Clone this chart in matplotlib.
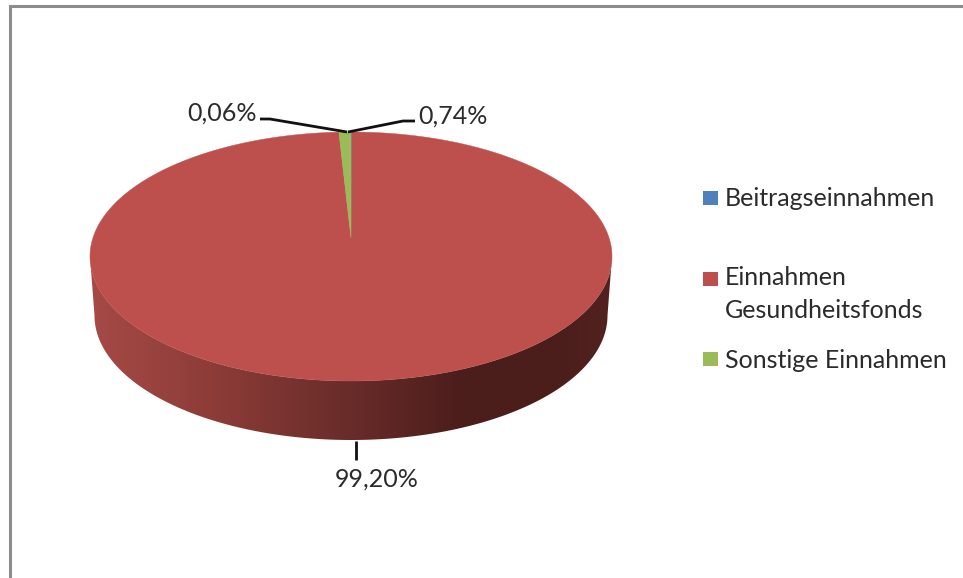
import numpy as np
import matplotlib
matplotlib.use("Agg")
import matplotlib.pyplot as plt
from matplotlib.colors import LinearSegmentedColormap
from matplotlib.patches import Polygon, Rectangle

# Einnahmen in Prozent
kategorien = ["Beitragseinnahmen", "Einnahmen\nGesundheitsfonds", "Sonstige Einnahmen"]
anteile = [0.06, 99.20, 0.74]
beschriftung = ["0,06%", "99,20%", "0,74%"]
farben = ["#4F81BD", "#BD4F4C", "#9BBB59"]

plt.rcParams['font.family'] = ['Lato', 'DejaVu Sans']

fig = plt.figure(figsize=(9.63, 5.78), dpi=100)
ax = fig.add_axes([0, 0, 1, 1])
ax.set_xlim(0, 963)
ax.set_ylim(578, 0)
ax.axis("off")

# Rahmen
ax.plot([10, 10, 963], [578, 6, 6], color="#8C8C8C", lw=2.2, solid_joinstyle="miter")

# Ellipse der Oberseite, Spitze der Stuecke liegt wegen der Perspektive hoeher
cx, cy, rx, ry = 351, 256.5, 261, 124.5
spitze_y = 238


def rand(winkel, cx=cx, cy=cy, rx=rx, ry=ry):
    return np.column_stack([cx + rx * np.sin(winkel), cy - ry * np.cos(winkel)])


# Seitenwand mit Verlauf
t = np.linspace(np.pi / 2, 3 * np.pi / 2, 300)
oben = rand(t)
unten = rand(t[::-1], cy=315.5, rx=256.5, ry=124.5)
wand = Polygon(np.vstack([oben, unten]), closed=True, transform=ax.transData, fc="none", ec="none")
ax.add_patch(wand)
verlauf = LinearSegmentedColormap.from_list("wand", [
    (0.0, "#A64A46"), (0.25, "#8B3B37"), (0.5, "#682C29"),
    (0.72, "#4B1D1B"), (0.9, "#4B1D1B"), (1.0, "#532220")])
bild = ax.imshow(np.linspace(0, 1, 256)[None, :], cmap=verlauf, aspect="auto",
                 extent=[90, 612, 445, 250], zorder=1)
bild.set_clip_path(wand)
ax.set_xlim(0, 963)
ax.set_ylim(578, 0)

# Oberseite: Stuecke im Uhrzeigersinn ab 12 Uhr
start = 0.0
for wert, farbe in zip(anteile, farben):
    ende = start + wert / sum(anteile) * 2 * np.pi
    w = np.linspace(start, ende, max(int(wert * 8), 4))
    punkte = np.vstack([[cx, spitze_y], rand(w)])
    ax.add_patch(Polygon(punkte, closed=True, fc=farbe, ec=farbe, lw=0.3, zorder=2))
    start = ende

# Fuehrungslinien
linie = dict(color="#111111", lw=2, zorder=3, solid_capstyle="butt")
ax.plot([260, 270, 347], [119, 119, 132], **linie)
ax.plot([415, 403, 348], [121, 121, 132], **linie)
ax.plot([356, 356], [441, 460], **linie)

text = dict(fontsize=18, color="#2B2B2B", va="center")
ax.text(187, 113, beschriftung[0], ha="left", **text)
ax.text(418, 116, beschriftung[2], ha="left", **text)
ax.text(377, 479, beschriftung[1], ha="center", **text)

# Legende
for name, farbe, y0, y_text in zip(kategorien, farben, [191, 272, 352], [199, 294, 360]):
    ax.add_patch(Rectangle((703, y0), 15, 14, fc=farbe, ec="none"))
    ax.text(725, y_text, name, ha="left", linespacing=1.52, **text)

fig.savefig("out.png", dpi=100)
